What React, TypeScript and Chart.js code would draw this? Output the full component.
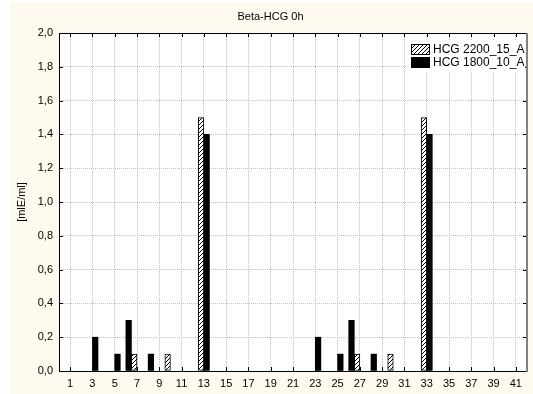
import React, { useEffect, useRef } from "react";
import { Chart, registerables } from "chart.js";

Chart.register(...registerables);

// Sample positions on the x axis (0 and 42 are empty end slots).
const categories = [
  0, 1, 2, 3, 4, 5, 6, 7, 8, 9,
  10, 11, 12, 13, 14, 15, 16, 17, 18, 19,
  20, 21, 22, 23, 24, 25, 26, 27, 28, 29,
  30, 31, 32, 33, 34, 35, 36, 37, 38, 39,
  40, 41, 42,
];

const seriesNames = ["HCG 2200_15_A", "HCG 1800_10_A"];

// [mlE/ml] per sample, null where nothing was measured
const hcg2200 = [
  null, null, null, null, null, null, null, 0.1, null, null,
  0.1, null, null, 1.5, null, null, null, null, null, null,
  null, null, null, null, null, null, null, 0.1, null, null,
  0.1, null, null, 1.5, null, null, null, null, null, null,
  null, null, null,
];

const hcg1800 = [
  null, null, null, 0.2, null, 0.1, 0.3, null, 0.1, null,
  null, null, null, 1.4, null, null, null, null, null, null,
  null, null, null, 0.2, null, 0.1, 0.3, null, 0.1, null,
  null, null, null, 1.4, null, null, null, null, null, null,
  null, null, null,
];

const yTicks = [0, 0.2, 0.4, 0.6, 0.8, 1.0, 1.2, 1.4, 1.6, 1.8, 2.0];

const chartTitle = "Beta-HCG 0h";
const yTitle = "[mlE/ml]";

const FONT = "'Liberation Sans', Arial, sans-serif";
const CREAM = "#fffaf0";
const GRID = "#c0c0c0";

function makeHatch(ctx: CanvasRenderingContext2D): CanvasPattern | string {
  const s = 4;
  const c = document.createElement("canvas");
  c.width = s;
  c.height = s;
  const g = c.getContext("2d");
  if (!g) return "#ffffff";
  g.fillStyle = "#ffffff";
  g.fillRect(0, 0, s, s);
  g.strokeStyle = "#000000";
  g.lineWidth = 1;
  g.beginPath();
  g.moveTo(0, s);
  g.lineTo(s, 0);
  g.moveTo(-1, 1);
  g.lineTo(1, -1);
  g.moveTo(s - 1, s + 1);
  g.lineTo(s + 1, s - 1);
  g.stroke();
  return ctx.createPattern(c, "repeat") || "#ffffff";
}

const isLabelled = (i: number) => i % 2 === 1 && i < categories.length - 1;

const framePlugin = {
  id: "frame",
  beforeDraw(chart: any) {
    const { ctx, width, height, chartArea: a } = chart;
    ctx.save();
    ctx.fillStyle = "#ffffff";
    ctx.fillRect(0, 0, width, height);
    ctx.fillStyle = CREAM;
    ctx.fillRect(10, 2, width - 10, height - 2);
    ctx.fillStyle = "#ffffff";
    ctx.fillRect(a.left, a.top, a.right - a.left, a.bottom - a.top);
    ctx.restore();
  },
  afterDraw(chart: any) {
    const { ctx, chartArea: a, scales } = chart;
    const xs = scales.x;
    const ys = scales.y;
    ctx.save();
    // inward tick marks on all four sides
    ctx.strokeStyle = "#000000";
    ctx.lineWidth = 1;
    ctx.beginPath();
    categories.forEach((_, i) => {
      if (!isLabelled(i)) return;
      const px = Math.round(xs.getPixelForValue(i)) + 0.5;
      ctx.moveTo(px, a.top);
      ctx.lineTo(px, a.top + 4);
      ctx.moveTo(px, a.bottom);
      ctx.lineTo(px, a.bottom - 4);
    });
    yTicks.forEach((v) => {
      const py = Math.round(ys.getPixelForValue(v)) + 0.5;
      ctx.moveTo(a.left, py);
      ctx.lineTo(a.left + 4, py);
      ctx.moveTo(a.right, py);
      ctx.lineTo(a.right - 4, py);
    });
    ctx.stroke();

    // plot frame
    ctx.beginPath();
    ctx.moveTo(Math.round(a.left) + 0.5, a.top);
    ctx.lineTo(Math.round(a.left) + 0.5, Math.round(a.bottom) + 0.5);
    ctx.lineTo(a.right, Math.round(a.bottom) + 0.5);
    ctx.moveTo(a.left, Math.round(a.top) + 0.5);
    ctx.lineTo(a.right, Math.round(a.top) + 0.5);
    ctx.stroke();
    ctx.strokeStyle = "#808080";
    ctx.lineWidth = 2;
    ctx.beginPath();
    ctx.moveTo(Math.round(a.right), a.top);
    ctx.lineTo(Math.round(a.right), a.bottom + 1);
    ctx.stroke();

    // legend box in the upper right corner of the plot
    const lx = 407;
    const ly = 40;
    ctx.fillStyle = "#ffffff";
    ctx.fillRect(lx, ly, a.right - 2 - lx, 32);
    const fills = [makeHatch(ctx), "#000000"];
    ctx.font = `12px ${FONT}`;
    ctx.textBaseline = "middle";
    ctx.textAlign = "left";
    seriesNames.forEach((name, i) => {
      const by = 44 + i * 13;
      ctx.fillStyle = fills[i];
      ctx.fillRect(411, by, 19, 11);
      ctx.strokeStyle = "#000000";
      ctx.lineWidth = 1;
      ctx.strokeRect(411.5, by + 0.5, 18, 10);
      ctx.fillStyle = "#000000";
      ctx.fillText(name, 433, by + 6);
    });
    ctx.restore();
  },
};

export default function App() {
  const ref = useRef<HTMLCanvasElement | null>(null);

  useEffect(() => {
    document.body.style.margin = "0";
    const canvas = ref.current;
    if (!canvas) return;
    const ctx = canvas.getContext("2d");
    if (!ctx) return;
    const hatch = makeHatch(ctx);

    const chart = new Chart(canvas, {
      type: "bar",
      data: {
        labels: categories.map(String),
        datasets: [
          {
            label: seriesNames[0],
            data: hcg2200,
            backgroundColor: hatch as any,
            borderColor: "#000000",
            borderWidth: 1,
            borderSkipped: false,
            categoryPercentage: 1,
            barPercentage: 1,
          },
          {
            label: seriesNames[1],
            data: hcg1800,
            backgroundColor: "#000000",
            borderColor: "#000000",
            borderWidth: 0,
            categoryPercentage: 1,
            barPercentage: 1,
          },
        ],
      },
      options: {
        responsive: false,
        animation: false,
        devicePixelRatio: 1,
        layout: { padding: { top: 0, left: 10, right: 2, bottom: 0 } },
        plugins: {
          legend: { display: false },
          tooltip: { enabled: false },
          title: {
            display: true,
            text: chartTitle,
            color: "#000000",
            font: { family: FONT, size: 11, weight: "normal" },
            padding: { top: 10, bottom: 9.8 },
          },
        },
        scales: {
          x: {
            type: "category",
            offset: false,
            grid: {
              offset: false,
              drawTicks: false,
              color: (c: any) => (isLabelled(c.index) ? GRID : "rgba(0,0,0,0)"),
              lineWidth: 1,
            },
            border: { display: false, dash: [1, 1] },
            ticks: {
              autoSkip: false,
              maxRotation: 0,
              minRotation: 0,
              padding: 6,
              color: "#000000",
              font: { family: FONT, size: 11 },
              callback: (_v: any, i: number) => (isLabelled(i) ? String(categories[i]) : ""),
            },
            afterFit: (s: any) => {
              s.height = 23;
            },
          },
          y: {
            min: 0,
            max: 2,
            afterBuildTicks: (s: any) => {
              s.ticks = yTicks.map((v) => ({ value: v }));
            },
            grid: { drawTicks: false, color: GRID, lineWidth: 1 },
            border: { display: false, dash: [1, 1] },
            ticks: {
              padding: 6,
              color: "#000000",
              font: { family: FONT, size: 11 },
              callback: (v: any) => Number(v).toFixed(1).replace(".", ","),
            },
            title: {
              display: true,
              text: yTitle,
              color: "#000000",
              font: { family: FONT, size: 11 },
              padding: { top: 5, bottom: 0 },
            },
            afterFit: (s: any) => {
              s.width = 49;
            },
          },
        },
      },
      plugins: [framePlugin],
    });

    return () => chart.destroy();
  }, []);

  return (
    <div style={{ width: 533, height: 394, position: "relative" }}>
      <canvas ref={ref} width={533} height={394} style={{ display: "block" }} />
    </div>
  );
}
